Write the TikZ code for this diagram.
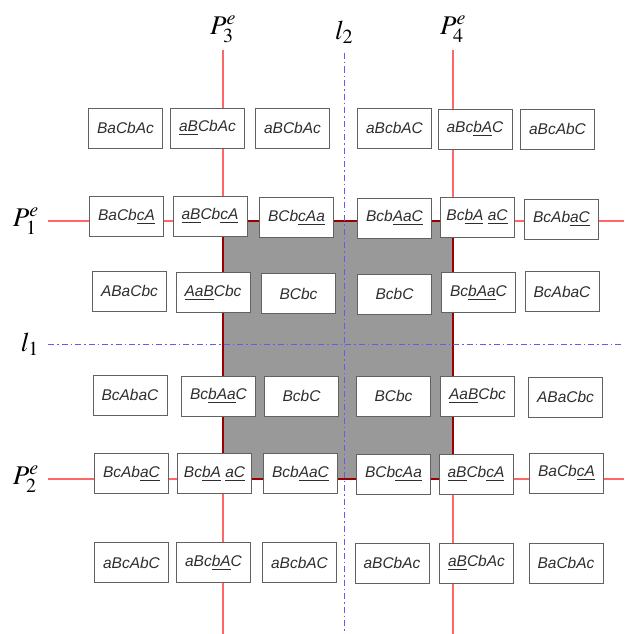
\documentclass[tikz,border=0pt]{standalone}
\usepackage{mathptmx}
\usepackage{fontspec}
\usepackage{tikz}
\usepackage{xcolor}
\usetikzlibrary{positioning}
\newfontfamily\boxfont{Liberation Sans}
\colorlet{plinered}{red!60}
\colorlet{squareedge}{red!60!black}
\definecolor{axisblue}{HTML}{5F5FEB}
\definecolor{squaregray}{HTML}{999999}
\tikzstyle{seqbox} = [rectangle, minimum width=74pt, minimum height=40pt, inner sep=0pt, text centered, draw=black!62, line width=0.9pt, fill=white, text=black!82, font=\boxfont\itshape\fontsize{15.5}{18}\selectfont]
\tikzstyle{plabel} = [inner sep=1pt, font=\fontsize{27}{32}\selectfont]
\tikzstyle{redline} = [color=plinered, line width=1.1pt]
\tikzstyle{axisline} = [draw=axisblue, line width=0.9pt, dash pattern=on 6pt off 3pt on 1.5pt off 3pt]
\newcommand{\uln}[1]{\underline{#1}}

\begin{document}
\begin{tikzpicture}[x=1pt, y=-1pt]
    \useasboundingbox (0,0) rectangle (624,634);
    % labels of the lines
    \node (P3) [plabel, above] at (223,44) {$P_3^e$};
    \node (P4) [plabel, above] at (453,44) {$P_4^e$};
    \node (L2) [plabel, above] at (344,45) {$l_2$};
    \node (P1) [plabel, left] at (40,221) {$P_1^e$};
    \node (P2) [plabel, left] at (40,479) {$P_2^e$};
    \node (L1) [plabel, left] at (40,344) {$l_1$};
    \coordinate (P3end) at (223,634);
    \coordinate (P4end) at (453,634);
    \coordinate (L2end) at (344,634);
    \coordinate (P1end) at (624,221);
    \coordinate (P2end) at (624,479);
    \coordinate (L1end) at (621,344);
    % grey square
    \fill [squaregray] (P3.south |- P1.east) rectangle (P4.south |- P2.east);
    \draw [redline, shorten <=6pt] (P3.south) -- (P3end);
    \draw [redline, shorten <=6pt] (P4.south) -- (P4end);
    \draw [redline, shorten <=8pt] (P1.east) -- (P1end);
    \draw [redline, shorten <=8pt] (P2.east) -- (P2end);
    \draw [color=squareedge, line width=1.1pt] (P3.south |- P1.east) rectangle (P4.south |- P2.east);
    \draw [axisline, shorten <=8pt] (L2.south) -- (L2end);
    \draw [axisline, shorten <=8pt] (L1.east) -- (L1end);
    % row 1
    \node (seq11) [seqbox] at (125.5,128) {BaCbAc};
    \node (seq12) [seqbox] at (207.5,128) {\uln{aB}CbAc};
    \node (seq13) [seqbox] at (292.5,128) {aBCbAc};
    \node (seq14) [seqbox] at (394.5,128) {aBcbAC};
    \node (seq15) [seqbox] at (475,129) {aBc\uln{bA}C};
    \node (seq16) [seqbox] at (557.5,129) {aBcAbC};
    % row 2
    \node (seq21) [seqbox] at (126.5,216.5) {BaCb\uln{cA}};
    \node (seq22) [seqbox] at (210,216) {\uln{aB}Cb\uln{cA}};
    \node (seq23) [seqbox] at (296.5,217.5) {BCb\uln{cAa}};
    \node (seq24) [seqbox] at (394.5,218) {Bcb\uln{AaC}};
    \node (seq25) [seqbox] at (477,217) {Bc\uln{bA} \uln{aC}};
    \node (seq26) [seqbox] at (561.5,219) {BcAb\uln{aC}};
    % row 3
    \node (seq31) [seqbox] at (129.5,291) {ABaCbc};
    \node (seq32) [seqbox] at (213,292.5) {\uln{AaB}Cbc};
    \node (seq33) [seqbox] at (298.5,293.5) {BCbc};
    \node (seq34) [seqbox] at (394.5,294) {BcbC};
    \node (seq35) [seqbox] at (478.5,292.5) {Bc\uln{bAa}C};
    \node (seq36) [seqbox] at (562,291.5) {BcAbaC};
    % row 4
    \node (seq41) [seqbox] at (130,395) {BcAbaC};
    \node (seq42) [seqbox] at (218.5,396) {Bc\uln{bAa}C};
    \node (seq43) [seqbox] at (301.5,396) {BcbC};
    \node (seq44) [seqbox] at (393.5,396) {BCbc};
    \node (seq45) [seqbox] at (477.5,396) {\uln{AaB}Cbc};
    \node (seq46) [seqbox] at (565.5,397) {ABaCbc};
    % row 5
    \node (seq51) [seqbox] at (131.5,473.5) {BcAb\uln{aC}};
    \node (seq52) [seqbox] at (214.5,473.5) {Bc\uln{bA} \uln{aC}};
    \node (seq53) [seqbox] at (300.5,473.5) {Bcb\uln{AaC}};
    \node (seq54) [seqbox] at (393.5,474) {BCb\uln{cAa}};
    \node (seq55) [seqbox] at (476,474) {\uln{aB}Cb\uln{cA}};
    \node (seq56) [seqbox] at (566.5,473) {BaCb\uln{cA}};
    % row 6
    \node (seq61) [seqbox] at (131.5,562.5) {aBcAbC};
    \node (seq62) [seqbox] at (213.5,562.5) {aBc\uln{bA}C};
    \node (seq63) [seqbox] at (299.5,562.5) {aBcbAC};
    \node (seq64) [seqbox] at (392,563) {aBCbAc};
    \node (seq65) [seqbox] at (476.5,563) {\uln{aB}CbAc};
    \node (seq66) [seqbox] at (566,563) {BaCbAc};
\end{tikzpicture}
\end{document}
